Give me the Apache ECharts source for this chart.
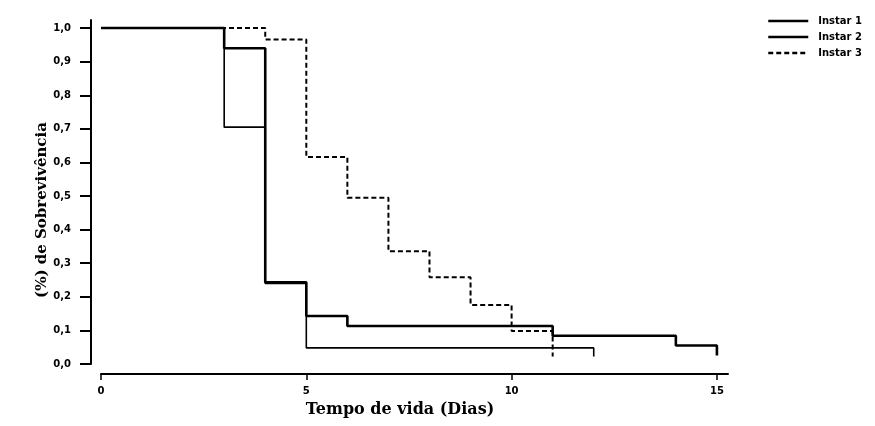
<!DOCTYPE html>
<html><head><meta charset="utf-8">
<script src="https://cdn.jsdelivr.net/npm/echarts@6/dist/echarts.min.js"></script>
<style>html,body{margin:0;padding:0;background:#fff}#c{width:875px;height:426px}</style>
</head><body><div id="c"></div>
<script>
var seriesNames = ['Instar 1', 'Instar 2', 'Instar 3'];
var instar1Days = [0, 3, 4, 5, 12, 12];
var instar1Surv = [1.0, 0.705, 0.24, 0.048, 0.048, 0.022];
var instar2Days = [0, 3, 4, 5, 6, 11, 14, 15, 15];
var instar2Surv = [1.0, 0.94, 0.243, 0.143, 0.113, 0.084, 0.055, 0.055, 0.025];
var instar3Days = [0, 4, 5, 6, 7, 8, 9, 10, 11, 11];
var instar3Surv = [1.0, 0.966, 0.616, 0.495, 0.336, 0.258, 0.176, 0.098, 0.098, 0.022];
var xTicks = [0, 5, 10, 15];
var yTicks = [0, 0.1, 0.2, 0.3, 0.4, 0.5, 0.6, 0.7, 0.8, 0.9, 1.0];
var xTitle = 'Tempo de vida (Dias)';
var yTitle = '(%) de Sobrevivência';

function pairs(xs, ys) { return xs.map(function (x, i) { return [x, ys[i]]; }); }

var chart = echarts.init(document.getElementById('c'));
var lbl = { color: '#000', fontFamily: 'DejaVu Sans', fontWeight: 'bold', fontSize: 10 };
chart.setOption({
  animation: false,
  backgroundColor: '#fff',
  grid: { left: 101, right: 147, top: 20, bottom: 62 },
  legend: {
    orient: 'vertical', left: 762, top: 11, itemWidth: 40, itemHeight: 10, itemGap: 6,
    itemStyle: { opacity: 0 },
    lineStyle: { width: 2.5 },
    textStyle: { color: '#000', fontFamily: 'DejaVu Sans', fontWeight: 'bold', fontSize: 10, padding: [0, 0, 3, 5] },
    data: seriesNames
  },
  xAxis: {
    type: 'value', min: 0, max: 15.27, offset: 10,
    splitLine: { show: false },
    axisLine: { onZero: false, lineStyle: { color: '#000', width: 2 } },
    axisTick: { length: 6, lineStyle: { color: '#000', width: 1.5 }, customValues: xTicks },
    axisLabel: Object.assign({ margin: 12, customValues: xTicks }, lbl)
  },
  yAxis: {
    type: 'value', min: 0, max: 1.024, offset: 10,
    splitLine: { show: false },
    axisLine: { onZero: false, lineStyle: { color: '#000', width: 2 } },
    axisTick: { length: 11, lineStyle: { color: '#000', width: 2 }, customValues: yTicks },
    axisLabel: Object.assign({ margin: 20, customValues: yTicks,
      formatter: function (v) { return v.toFixed(1).replace('.', ','); } }, lbl)
  },
  graphic: [
    { type: 'text', style: { text: xTitle, x: 400, y: 410, align: 'center', verticalAlign: 'middle',
      font: 'bold 16px "DejaVu Serif"', fill: '#000' } },
    { type: 'text', rotation: Math.PI / 2, x: 42, y: 210, style: { text: yTitle, x: 0, y: 0, align: 'center', verticalAlign: 'middle',
      font: 'bold 15px "DejaVu Serif"', fill: '#000' } }
  ],
  series: [
    { name: seriesNames[0], type: 'line', step: 'end', symbol: 'none', color: '#000',
      lineStyle: { color: '#000', width: 1.6 }, data: pairs(instar1Days, instar1Surv), z: 3 },
    { name: seriesNames[1], type: 'line', step: 'end', symbol: 'none', color: '#000',
      lineStyle: { color: '#000', width: 2.6 }, data: pairs(instar2Days, instar2Surv), z: 4 },
    { name: seriesNames[2], type: 'line', step: 'end', symbol: 'none', color: '#000',
      lineStyle: { color: '#000', width: 2, type: [5, 3] }, data: pairs(instar3Days, instar3Surv), z: 2 }
  ]
});
</script></body></html>
